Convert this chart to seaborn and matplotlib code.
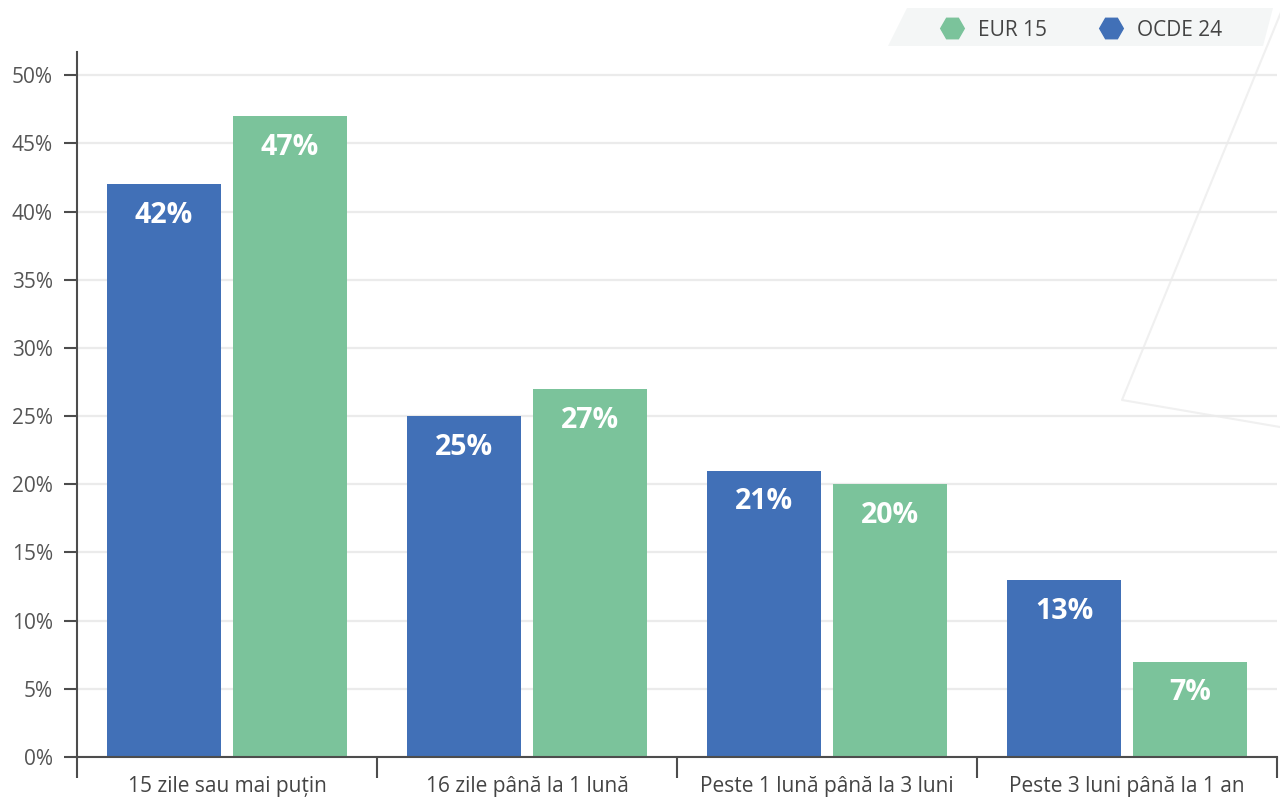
import matplotlib
matplotlib.use("Agg")
import matplotlib.pyplot as plt
import seaborn as sns
import pandas as pd
from matplotlib.lines import Line2D
from matplotlib.patches import Polygon

categories = ["15 zile sau mai puțin", "16 zile până la 1 lună",
              "Peste 1 lună până la 3 luni", "Peste 3 luni până la 1 an"]
ocde24 = [42, 25, 21, 13]
eur15 = [47, 27, 20, 7]
series_names = ["OCDE 24", "EUR 15"]
colors = {"OCDE 24": "#4170b7", "EUR 15": "#7bc39b"}
yticks = [0, 5, 10, 15, 20, 25, 30, 35, 40, 45, 50]

df = pd.DataFrame({
    "cat": categories * 2,
    "serie": ["OCDE 24"] * 4 + ["EUR 15"] * 4,
    "val": ocde24 + eur15,
})

sns.set_theme(style="white")
plt.rcParams["font.family"] = ["Open Sans", "DejaVu Sans"]

fig = plt.figure(figsize=(12.8, 7.98), dpi=100, facecolor="white")
ax = fig.add_axes([77 / 1280, 41 / 798, 1200 / 1280, (757 - 52) / 798])
ax.patch.set_alpha(0)

sns.barplot(data=df, x="cat", y="val", hue="serie", hue_order=series_names,
            order=categories, palette=colors, width=0.84, gap=0.095,
            saturation=1, ax=ax, legend=False, edgecolor="none")

ax.set_ylim(0, 51.7)
ax.set_xlim(-0.5, 3.5)
ax.set_yticks(yticks)
ax.set_yticklabels([f"{v}%" for v in yticks], fontsize=15, color="#555555")
ax.yaxis.grid(True, color="#ebebeb", linewidth=1.6)
ax.set_axisbelow(True)
ax.set_xlabel("")
ax.set_ylabel("")

ax.set_xticks(range(4))
ax.set_xticklabels(categories, fontsize=15, color="#444444")
ax.set_xticks([-0.5, 0.5, 1.5, 2.5, 3.5], minor=True)
ax.tick_params(axis="x", which="both", bottom=True)
ax.tick_params(axis="x", which="major", length=0, pad=14)
ax.tick_params(axis="x", which="minor", length=15, width=1.5, color="#4d4d4d")
ax.tick_params(axis="y", which="major", left=True, length=9.5, width=1.5,
               color="#4d4d4d", pad=8)

for s in ["top", "right"]:
    ax.spines[s].set_visible(False)
for s in ["left", "bottom"]:
    ax.spines[s].set_color("#4d4d4d")
    ax.spines[s].set_linewidth(1.5)

for cont in ax.containers:
    labels = [f"{int(round(b.get_height()))}%" for b in cont]
    ax.bar_label(cont, labels=labels, label_type="edge", padding=-33,
                 color="white", fontsize=20.5, fontweight="bold")

# decorative background lines
fig.add_artist(Line2D([1286 / 1280, 1122 / 1280, 1280 / 1280],
                      [1 - 0 / 798, 1 - 400 / 798, 1 - 427 / 798],
                      transform=fig.transFigure, color="#f0f0f0", lw=1.5, zorder=-5))

# legend background
fig.add_artist(Polygon([[907 / 1280, 1 - 8 / 798], [1273 / 1280, 1 - 8 / 798],
                        [1263 / 1280, 1 - 46 / 798], [888 / 1280, 1 - 46 / 798]],
                       closed=True, transform=fig.transFigure,
                       facecolor="#f4f6f6", edgecolor="none", zorder=-4))

handles = [Line2D([], [], marker="H", linestyle="none", markersize=17,
                  markerfacecolor=colors[n], markeredgecolor=colors[n], label=n)
           for n in ["EUR 15", "OCDE 24"]]
fig.legend(handles=handles, ncol=2, frameon=False, loc="center",
           bbox_to_anchor=(1081 / 1280, 1 - 30 / 798), fontsize=15,
           labelcolor="#444444", handletextpad=0.64, columnspacing=2.5,
           handlelength=1.2)

fig.savefig("out.png", dpi=100)
